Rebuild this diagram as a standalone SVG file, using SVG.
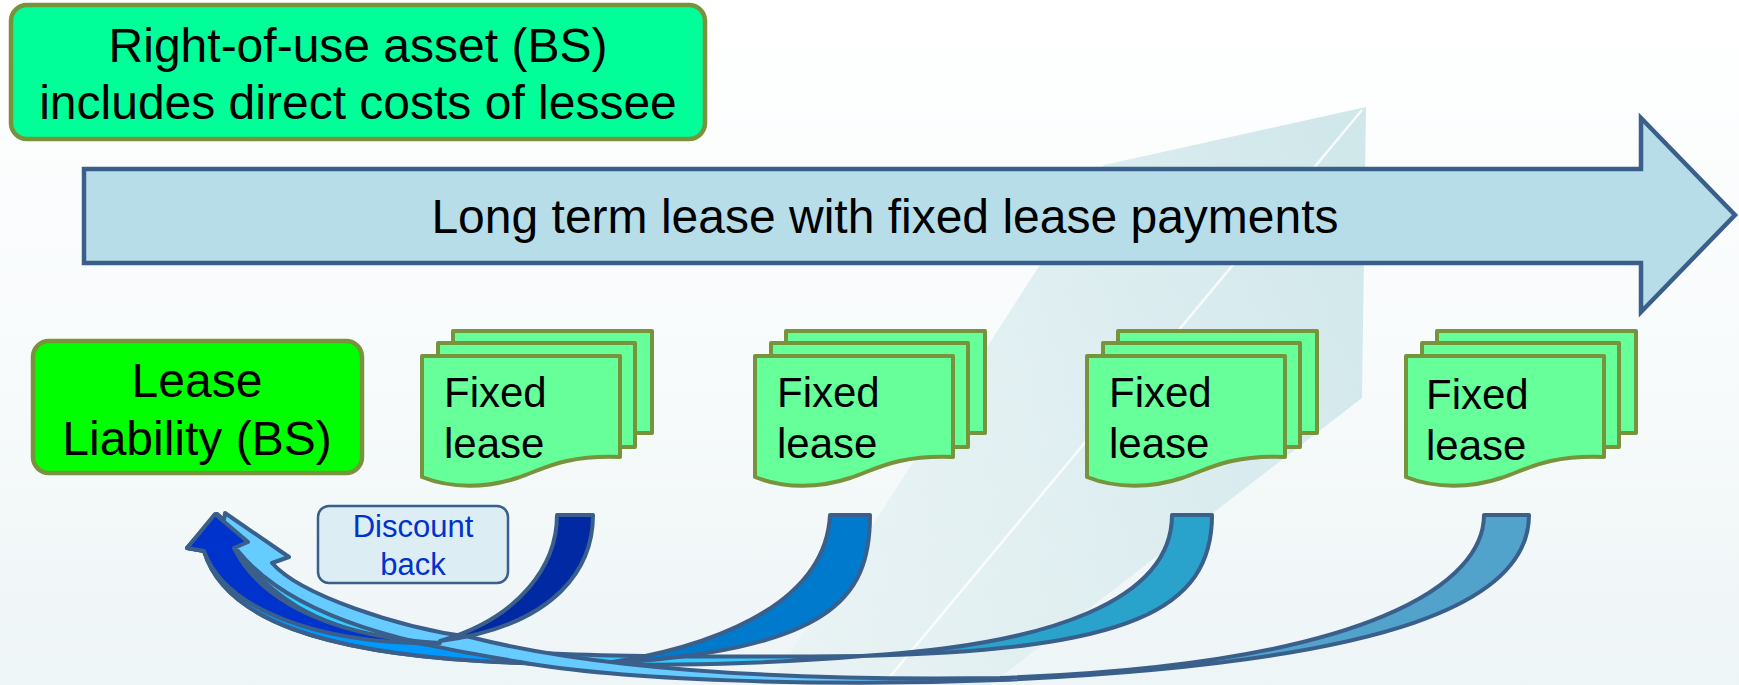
<svg xmlns="http://www.w3.org/2000/svg" width="1739" height="685" viewBox="0 0 1739 685">
<defs>
<linearGradient id="bg" x1="0" y1="0" x2="0" y2="1">
<stop offset="0" stop-color="#FFFFFF"/>
<stop offset="0.5" stop-color="#F8FBFC"/>
<stop offset="1" stop-color="#EEF5F6"/>
</linearGradient>
<linearGradient id="bgArrow" gradientUnits="userSpaceOnUse" x1="1400" y1="250" x2="800" y2="650">
<stop offset="0" stop-color="#C6E2E6" stop-opacity="0.8"/>
<stop offset="1" stop-color="#C6E2E6" stop-opacity="0.15"/>
</linearGradient>
<style>
.t{font-family:"Liberation Sans",Arial,sans-serif;fill:#000}
.box{stroke:#77933C;stroke-width:4.5}
.doc{fill:#66FF99;stroke:#77933C;stroke-width:4;stroke-linejoin:round}
.arr{stroke:#3A5F8B;stroke-width:4;stroke-linejoin:round}
.edge{fill:none;stroke:#3A5F8B;stroke-width:4;stroke-linejoin:round}
</style>
<g id="stack">
<rect class="doc" x="31" y="331" width="199" height="102"/>
<rect class="doc" x="16" y="343" width="197" height="104"/>
<path class="doc" d="M0,356 H198 V457 C140,455 120,470 95,478 C65,488 30,489 0,477 Z"/>
</g>
</defs>
<rect width="1739" height="685" fill="url(#bg)"/>
<g id="background-arrow">
<polygon points="1366,107 1362,398 990,685 770,685 1104,165" fill="url(#bgArrow)"/>
<line x1="1362" y1="110" x2="883" y2="685" stroke="#FFFFFF" stroke-width="2.5" stroke-opacity="0.8"/>
</g>
<g id="rou-asset">
<rect class="box" x="11" y="5" width="694" height="134" rx="16" fill="#00FF99"/>
<text class="t" x="358" y="62" font-size="48" text-anchor="middle">Right-of-use asset (BS)</text>
<text class="t" x="358" y="119" font-size="48" text-anchor="middle">includes direct costs of lessee</text>
</g>
<g id="lease-term">
<path d="M84,169 H1641 V118 L1735,215 L1641,312 V263 H84 Z" fill="#B7DEE8" stroke="#3A5F8B" stroke-width="4.5"/>
<text class="t" x="885" y="233" font-size="48" text-anchor="middle">Long term lease with fixed lease payments</text>
</g>
<g id="lease-liability">
<rect class="box" x="33" y="341" width="329" height="132" rx="16" fill="#00FF00"/>
<text class="t" x="197" y="397" font-size="48" text-anchor="middle">Lease</text>
<text class="t" x="197" y="455" font-size="48" text-anchor="middle">Liability (BS)</text>
</g>
<g id="payment1">
<use href="#stack" x="422"/>
<text class="t" x="444" y="407" font-size="42">Fixed</text>
<text class="t" x="444" y="458" font-size="42">lease</text>
</g>
<g id="payment2">
<use href="#stack" x="755"/>
<text class="t" x="777" y="407" font-size="42">Fixed</text>
<text class="t" x="777" y="458" font-size="42">lease</text>
</g>
<g id="payment3">
<use href="#stack" x="1087"/>
<text class="t" x="1109" y="407" font-size="42">Fixed</text>
<text class="t" x="1109" y="458" font-size="42">lease</text>
</g>
<g id="payment4">
<use href="#stack" x="1406"/>
<text class="t" x="1426" y="409" font-size="42">Fixed</text>
<text class="t" x="1426" y="460" font-size="42">lease</text>
</g>
<g id="discount-label">
<rect x="318" y="506" width="190" height="77" rx="11" fill="#DCEEF4" stroke="#3A5F8B" stroke-width="2.5"/>
<text x="413" y="537" font-size="31" text-anchor="middle" font-family="Liberation Sans, Arial, sans-serif" fill="#0033CC">Discount</text>
<text x="413" y="575" font-size="31" text-anchor="middle" font-family="Liberation Sans, Arial, sans-serif" fill="#0033CC">back</text>
</g>
<g id="connectors">
<g id="arrow3">
<path class="arr" fill="#33CCFF" d="M204,551 C225,622 330,652 480,661 C600,668 760,665 862,656 C760,657 620,658 520,652 C420,642 300,612 236,548 L248,542 L217,514 L187,548 Z"/>
<path class="arr" fill="#29A3CC" d="M1212,515 C1212,610 1130,650 862,656 C1050,645 1172,600 1172,515 Z"/>
</g>
<g id="arrow2">
<path class="arr" fill="#0099FF" d="M204,551 C225,622 330,652 480,661 C530,664 570,665 600,664 C540,660 440,648 380,637 C320,624 270,600 236,548 L248,542 L217,514 L187,548 Z"/>
<path class="arr" fill="#007ACC" d="M870,515 C870,600 830,650 600,664 C700,650 825,610 830,515 Z"/>
</g>
<g id="arrow4">
<path fill="#66CCFF" d="M1000,680 C820,687 620,680 520,662 C440,648 300,628 238,551 L220,546 L225,513 L289,557 L272,563 C300,595 400,628 470,637 C600,670 780,681 1000,678 Z"/>
<path fill="#52A3CC" d="M1529,515 C1529,600 1400,662 1000,679 C1380,664 1484,580 1484,515 Z"/>
<path class="edge" d="M1484,515 H1529 C1529,600 1400,662 1000,680 C820,687 620,680 520,662 C440,648 300,628 238,551 L220,546 L225,513 L289,557 L272,563 C300,595 400,628 470,637 C600,670 780,681 1000,678 C1380,664 1484,580 1484,515 Z"/>
</g>
<g id="arrow1">
<path class="arr" fill="#0033CC" d="M204,551 C225,610 320,645 440,643 C350,638 265,610 234,548 L248,542 L215,514 L187,548 Z"/>
<path class="arr" fill="#0029A3" d="M593,515 C593,565 560,625 440,641 C520,618 557,565 557,515 Z"/>
</g>
</g>
</svg>
